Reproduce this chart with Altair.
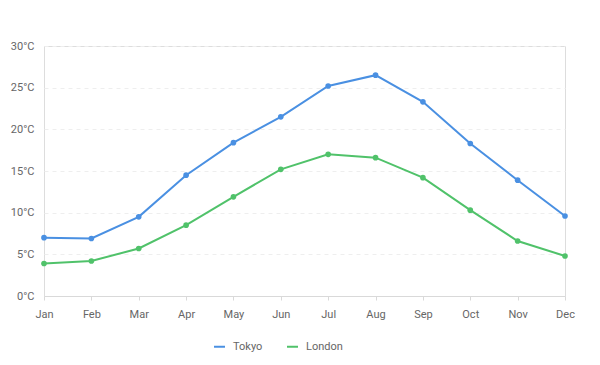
import altair as alt
import pandas as pd

months = ["Jan", "Feb", "Mar", "Apr", "May", "Jun", "Jul", "Aug", "Sep", "Oct", "Nov", "Dec"]
tokyo = [7.0, 6.9, 9.5, 14.5, 18.4, 21.5, 25.2, 26.5, 23.3, 18.3, 13.9, 9.6]
london = [3.9, 4.2, 5.7, 8.5, 11.9, 15.2, 17.0, 16.6, 14.2, 10.3, 6.6, 4.8]
series = ["Tokyo", "London"]
colors = ["#4a90e2", "#50c26a"]

rows = []
for m, t, l in zip(months, tokyo, london):
    rows.append({"month": m, "city": "Tokyo", "temp": t})
    rows.append({"month": m, "city": "London", "temp": l})
df = pd.DataFrame(rows)

FONT = "Roboto"

x = alt.X("month:O", sort=months, title=None,
          scale=alt.Scale(type="point", padding=0),
          axis=alt.Axis(labelAngle=0, labelColor="#666", labelFontSize=11, labelFont=FONT,
                        domainColor="#d9d9d9", tickColor="#d9d9d9", tickSize=4,
                        labelPadding=8, grid=False))
y = alt.Y("temp:Q", title=None,
          scale=alt.Scale(domain=[0, 30], nice=False),
          axis=alt.Axis(values=[0, 5, 10, 15, 20, 25, 30], labelExpr="datum.value + '°C'",
                        labelColor="#666", labelFontSize=11, labelFont=FONT,
                        domain=False, ticks=False, labelPadding=10,
                        gridColor="#eeeeee", gridDash=[4, 4]))
color = alt.Color("city:N", sort=series,
                  scale=alt.Scale(domain=series, range=colors),
                  legend=alt.Legend(title=None, orient="none", direction="horizontal",
                                    legendX=169, legendY=294, symbolType="stroke",
                                    symbolStrokeWidth=2, symbolSize=120,
                                    labelColor="#666", labelFontSize=11, labelFont=FONT,
                                    labelOffset=7, columnPadding=20))

base = alt.Chart(df).encode(x=x, y=y, color=color)
lines = base.mark_line(strokeWidth=2)
points = base.mark_circle(size=32, opacity=1)

chart = (lines + points).properties(
    width=521, height=250,
    autosize=alt.AutoSizeParams(type="none"),
    padding={"left": 36, "top": 38, "right": 20, "bottom": 60},
).configure_view(stroke=None).configure(background="white")

chart.save("out.html", embed_options={"renderer": "svg", "actions": False})
